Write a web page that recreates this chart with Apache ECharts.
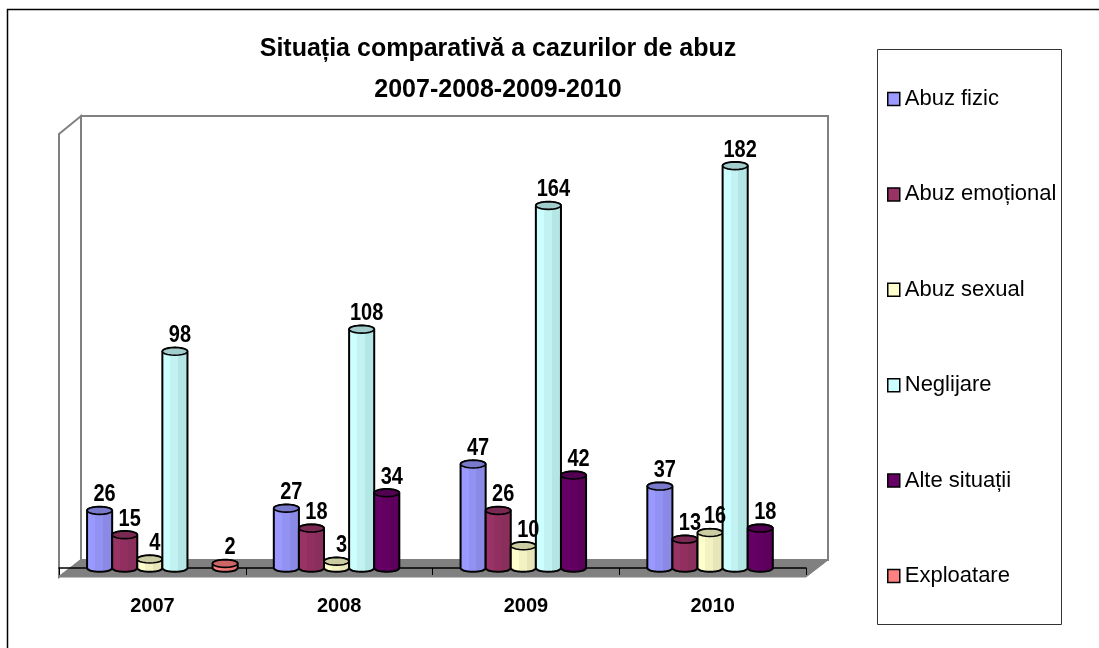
<!DOCTYPE html>
<html><head><meta charset="utf-8">
<style>html,body{margin:0;padding:0;background:#fff}#c{width:1099px;height:648px}</style>
<script src="https://cdn.jsdelivr.net/npm/echarts@6/dist/echarts.min.js"></script>
</head><body><div id="c"></div>
<script>
const years = ['2007','2008','2009','2010'];
const fizic = [26,27,47,37];
const emotional = [15,18,26,13];
const sexual = [4,3,10,16];
const neglijare = [98,108,164,182];
const alte = [null,34,42,18];
const exploatare = [2,null,null,null];
const names = ['Abuz fizic','Abuz emoțional','Abuz sexual','Neglijare','Alte situații','Exploatare'];
const values = [fizic,emotional,sexual,neglijare,alte,exploatare];
const light = ['#9999FF','#993366','#FFFFCC','#CCFFFF','#660066','#FF8080'];
const mid   = ['#9292F2','#922F61','#F2F2C2','#C2F2F2','#610061','#F27A7A'];
const dark  = ['#8A8AE6','#8A2E5C','#E6E6B8','#B5E6E6','#5C005C','#E67373'];
const topc  = ['#7A7ACC','#7A2952','#CCCCA3','#A3CCCC','#520052','#CC6666'];
const FONT = '"Liberation Sans", Arial, sans-serif';

function ellipsePts(cx, cy, rx, ry, from, to){
  const p = [], n = 20;
  for(let k=0;k<=n;k++){
    const a = from + (to-from)*k/n;
    p.push([cx + rx*Math.cos(a), cy + ry*Math.sin(a)]);
  }
  return p;
}
function cylinder(si){
  return function(params, api){
    const cat = api.value(0), v = api.value(1);
    const band = api.size([1,0])[0];
    const bw = band*0.1344;
    const base = api.coord([cat,0]);
    const top = api.coord([cat,v]);
    const cx = base[0] + band*0.0535 + (si-2.5)*bw;
    const rx = bw/2, ry = 3.8;
    const body = ellipsePts(cx, base[1], rx, ry, 0, Math.PI)
      .concat(ellipsePts(cx, top[1], rx, ry, Math.PI, 2*Math.PI));
    const grad = new echarts.graphic.LinearGradient(0,0,1,0,[
      {offset:0,color:light[si]},{offset:0.33,color:light[si]},
      {offset:0.33,color:mid[si]},{offset:0.62,color:mid[si]},
      {offset:0.62,color:dark[si]},{offset:1,color:dark[si]}]);
    return {type:'group',children:[
      {type:'polygon',shape:{points:body},style:{fill:grad,stroke:'#000',lineWidth:2,lineJoin:'round'}},
      {type:'polygon',shape:{points:ellipsePts(cx,top[1],rx,ry,0,2*Math.PI)},style:{fill:topc[si],stroke:'#000',lineWidth:1.6}},
      {type:'text',x:cx+5,y:top[1]-4,scaleY:1.15,z2:100,style:{text:String(v),fill:'#000',font:'bold 20px '+FONT,textAlign:'center',textVerticalAlign:'bottom'}}
    ]};
  };
}
const series = names.map((n,si)=>({
  name:n,type:'custom',
  itemStyle:{color:light[si]},
  encode:{x:0,y:1},
  data:values[si].map((v,i)=>v==null?null:[i,v]).filter(d=>d),
  renderItem:cylinder(si),
  clip:false
}));
const chart = echarts.init(document.getElementById('c'),null,{renderer:'canvas'});
chart.setOption({
  animation:false,
  backgroundColor:'#fff',
  title:{text:'Situația comparativă a cazurilor de abuz\n2007-2008-2009-2010',left:498,top:29,padding:0,textAlign:'center',
    textStyle:{fontFamily:FONT,fontWeight:'bold',fontSize:25,lineHeight:40.5,color:'#000'}},
  grid:{left:59,right:293,top:126,bottom:80},
  xAxis:{type:'category',data:years,offset:9,
    axisLine:{lineStyle:{color:'#000',width:1.5}},
    axisTick:{show:true,length:7,lineStyle:{color:'#000',width:1}},
    axisLabel:{color:'#000',fontFamily:FONT,fontWeight:'bold',fontSize:20,margin:19}},
  yAxis:{type:'value',min:0,max:200,show:false},
  legend:{orient:'vertical',left:887,top:88,data:names,
    icon:'rect',itemWidth:12,itemHeight:13,itemGap:73.4,padding:0,
    itemStyle:{borderColor:'#000',borderWidth:1.5},
    selectedMode:false,
    textStyle:{fontFamily:FONT,fontSize:22,lineHeight:22,color:'#000'}},
  graphic:{elements:[
    {type:'polyline',shape:{points:[[7.5,648],[7.5,9.5],[1099,9.5]]},style:{fill:'none',stroke:'#000',lineWidth:1.5},silent:true},
    {type:'rect',shape:{x:877.5,y:49.5,width:184,height:575},style:{fill:'#fff',stroke:'#333',lineWidth:1},silent:true},
    {type:'rect',shape:{x:81,y:116,width:747,height:444},style:{fill:'#fff',stroke:'#808080',lineWidth:2},silent:true},
    {type:'polygon',shape:{points:[[59,134],[81,116],[81,560],[59,577]]},style:{fill:'#fff',stroke:'#808080',lineWidth:2},silent:true},
    {type:'polygon',shape:{points:[[59,577],[81,560],[828,560],[806,577]]},style:{fill:'#808080',stroke:'#808080',lineWidth:1},silent:true}
  ]},
  series
});
</script></body></html>
